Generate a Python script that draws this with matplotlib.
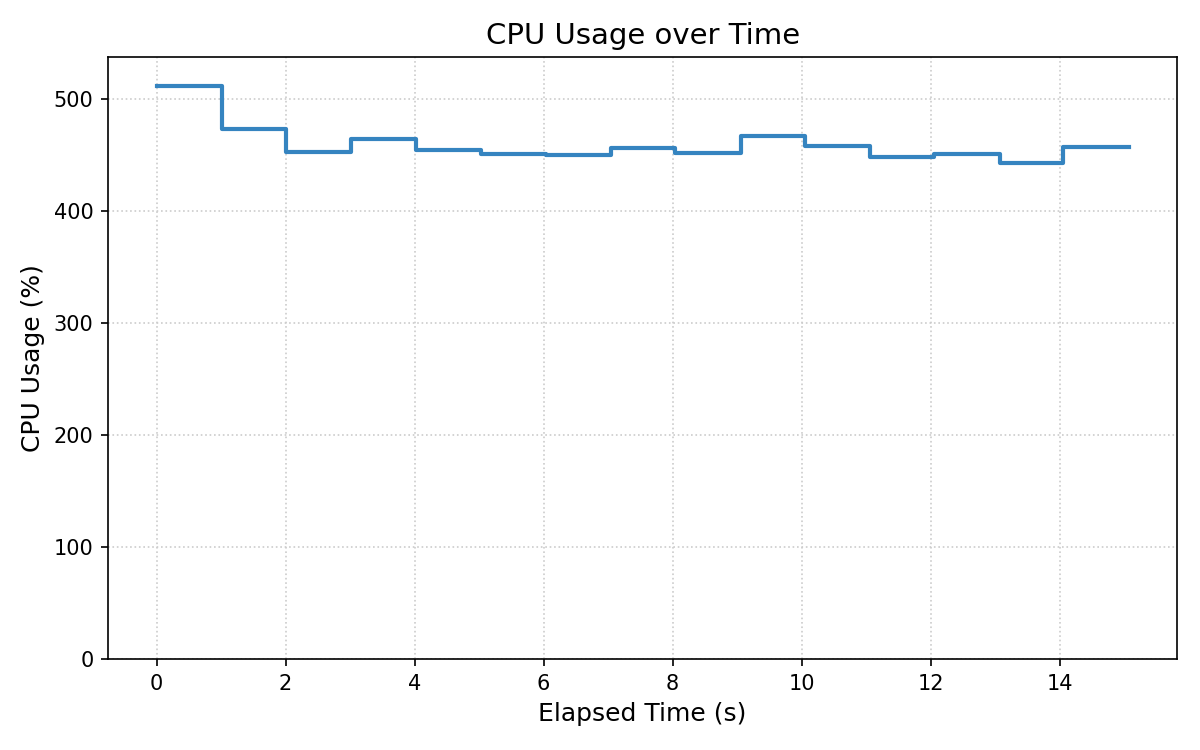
import numpy as np
import matplotlib
matplotlib.use('Agg')
import matplotlib.pyplot as plt

# elapsed time samples (s) and CPU usage (%)
elapsed = [0.0, 1.02, 2.01, 3.02, 4.02, 5.03, 6.03, 7.05, 8.03, 9.06,
           10.06, 11.06, 12.05, 13.08, 14.06, 15.07]
cpu = [511.9, 473.2, 452.3, 464.6, 454.8, 451.2, 450.3, 456.5, 452.1, 467.3,
       458.3, 448.5, 451.2, 443.2, 457.1, 457.1]

fig, ax = plt.subplots(figsize=(8, 5), dpi=150)
ax.step(elapsed, cpu, where='post', color='#3584c0', linewidth=2)
ax.set_ylim(0, max(cpu) * 1.05)
ax.set_xticks(np.arange(0, 15, 2))
ax.grid(True, linestyle=':', color='#cccccc', linewidth=0.8)
ax.set_title('CPU Usage over Time', fontsize=14)
ax.set_xlabel('Elapsed Time (s)', fontsize=12)
ax.set_ylabel('CPU Usage (%)', fontsize=12)
fig.subplots_adjust(left=0.09, right=0.981, top=0.924, bottom=0.121)
plt.savefig('out.png')
plt.close()
